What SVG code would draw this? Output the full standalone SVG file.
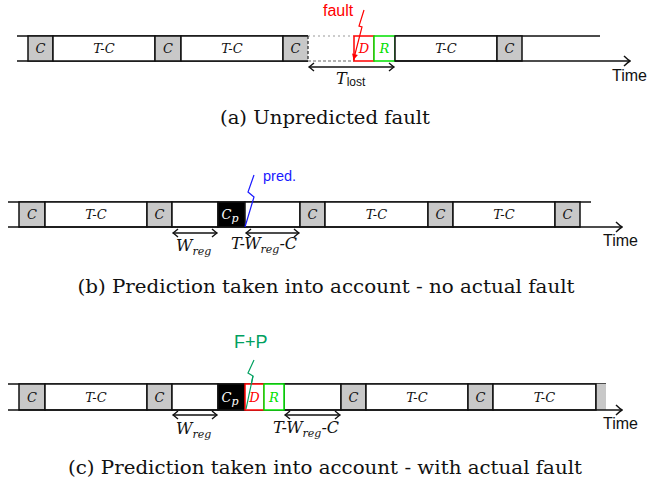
<svg xmlns="http://www.w3.org/2000/svg" width="647" height="484" viewBox="0 0 647 484">
<style>
.ln{stroke:#111;stroke-width:1.5;fill:none}
.c{fill:#c8c8c8;stroke:#111;stroke-width:1.5}
.w{fill:#fff;stroke:#111;stroke-width:1.5}
.k{fill:#000;stroke:#111;stroke-width:1.5}
.d{fill:#fff;stroke:#ff0000;stroke-width:1.5}
.r{fill:#fff;stroke:#00e000;stroke-width:1.5}
.m{font-family:'DejaVu Serif','Liberation Serif',serif;font-style:italic;font-size:13px;text-anchor:middle;fill:#111}
.s{font-family:'Liberation Sans',Arial,sans-serif}
.cap{font-family:'DejaVu Serif','Liberation Serif',serif;font-size:18px;text-anchor:middle;fill:#111}
.lab{font-family:'DejaVu Serif','Liberation Serif',serif;font-style:italic;font-size:16px;fill:#111}
.sub{font-size:11px}
.time{font-family:'Liberation Sans',Arial,sans-serif;font-size:16px;fill:#111}
</style>
<defs>
<marker id="ax" viewBox="-8 -6 9 12" refX="0" refY="0" markerWidth="9" markerHeight="12" orient="auto" markerUnits="userSpaceOnUse">
<path d="M-6,-5 Q-2,-1.2 0,0 Q-2,1.2 -6,5" fill="none" stroke="#111" stroke-width="1.5"/>
</marker>
<marker id="ah" viewBox="-6 -5 7 10" refX="0" refY="0" markerWidth="7" markerHeight="10" orient="auto-start-reverse" markerUnits="userSpaceOnUse">
<path d="M-5,-4 Q-1.5,-1 0,0 Q-1.5,1 -5,4" fill="none" stroke="#111" stroke-width="1.4"/>
</marker>
<marker id="fr" viewBox="-7 -4 8 8" refX="0" refY="0" markerWidth="8" markerHeight="8" orient="auto" markerUnits="userSpaceOnUse">
<path d="M-6,-3 L0,0 L-6,3 Z" fill="#ff0000"/>
</marker>
</defs>

<!-- Row (a) -->
<g id="row-a">
<path class="ln" d="M17,36 H308 M395,36 H600 M17,61 H308"/>
<path d="M308,36 H354" stroke="#999" stroke-width="1.2" stroke-dasharray="2,3"/>
<path d="M308,61 H354" stroke="#666" stroke-width="1.2" stroke-dasharray="3,2"/>
<g id="a-c1"><rect class="c" x="28" y="36" width="25" height="25"/><text class="m" x="40.5" y="53">C</text></g>
<g id="a-tc1"><rect class="w" x="53" y="36" width="102" height="25"/><text class="m" x="104" y="53">T-C</text></g>
<g id="a-c2"><rect class="c" x="155" y="36" width="26" height="25"/><text class="m" x="168" y="53">C</text></g>
<g id="a-tc2"><rect class="w" x="181" y="36" width="102" height="25"/><text class="m" x="232" y="53">T-C</text></g>
<g id="a-c3"><path d="M308,36 H283 V61 H308" class="c"/><path d="M308,36 V61" stroke="#333" stroke-width="1.3" stroke-dasharray="3,2"/><text class="m" x="295.5" y="53">C</text></g>
<g id="a-d"><rect class="d" x="354" y="36" width="20" height="25"/><text class="m" x="364" y="53" style="fill:#ff0000">D</text></g>
<g id="a-r"><rect class="r" x="374" y="36" width="21" height="25"/><text class="m" x="384.5" y="53" style="fill:#00e000">R</text></g>
<g id="a-tc3"><rect class="w" x="395" y="36" width="102" height="25"/><text class="m" x="446" y="53">T-C</text></g>
<g id="a-c4"><rect class="c" x="497" y="36" width="25" height="25"/><text class="m" x="509.5" y="53">C</text></g>
<text id="a-fault" class="s" x="323" y="16" font-size="16" fill="#ff0000">fault</text>
<text id="a-time" class="time" x="612" y="81">Time</text>
<text id="a-tlost" class="lab" x="336" y="84" font-size="17">T<tspan class="s" font-style="normal" font-size="12" dy="2">lost</tspan></text>
<text id="cap-a" class="cap" x="325" y="124" textLength="210" lengthAdjust="spacingAndGlyphs">(a) Unpredicted fault</text>
</g>

<!-- Row (b) -->
<g id="row-b">
<path class="ln" d="M8,202 H591"/>
<g id="b-c1"><rect class="c" x="19" y="202" width="26" height="25"/><text class="m" x="32" y="219">C</text></g>
<g id="b-tc1"><rect class="w" x="45" y="202" width="102" height="25"/><text class="m" x="96" y="219">T-C</text></g>
<g id="b-c2"><rect class="c" x="147" y="202" width="25" height="25"/><text class="m" x="159.5" y="219">C</text></g>
<g id="b-w1"><rect class="w" x="172" y="202" width="46" height="25"/></g>
<g id="b-cp"><rect class="k" x="218" y="202" width="27" height="25"/><text class="m" x="230" y="219" style="fill:#fff">C<tspan class="sub" font-size="9" dy="3">p</tspan></text></g>
<g id="b-w2"><rect class="w" x="245" y="202" width="55" height="25"/></g>
<g id="b-c3"><rect class="c" x="300" y="202" width="25" height="25"/><text class="m" x="312.5" y="219">C</text></g>
<g id="b-tc2"><rect class="w" x="325" y="202" width="103" height="25"/><text class="m" x="376.5" y="219">T-C</text></g>
<g id="b-c4"><rect class="c" x="428" y="202" width="25" height="25"/><text class="m" x="440.5" y="219">C</text></g>
<g id="b-tc3"><rect class="w" x="453" y="202" width="102" height="25"/><text class="m" x="504" y="219">T-C</text></g>
<g id="b-c5"><rect class="c" x="555" y="202" width="25" height="25"/><text class="m" x="567.5" y="219">C</text></g>
<text id="b-pred" class="s" x="263" y="181" font-size="14.5" fill="#1a1aff">pred.</text>
<text id="b-time" class="time" x="603" y="246">Time</text>
<text id="b-wreg" class="lab" x="176" y="251">W<tspan class="sub" dy="4">reg</tspan></text>
<text id="b-twc" class="lab" x="231" y="249">T-W<tspan class="sub" dy="4">reg</tspan><tspan dy="-4">-C</tspan></text>
<text id="cap-b" class="cap" x="326" y="293" textLength="497" lengthAdjust="spacingAndGlyphs">(b) Prediction taken into account - no actual fault</text>
</g>

<!-- Row (c) -->
<g id="row-c">
<path class="ln" d="M8,384 H606"/>
<g id="c-c1"><rect class="c" x="19" y="384" width="26" height="26"/><text class="m" x="32" y="401.5">C</text></g>
<g id="c-tc1"><rect class="w" x="45" y="384" width="102" height="26"/><text class="m" x="96" y="401.5">T-C</text></g>
<g id="c-c2"><rect class="c" x="147" y="384" width="25" height="26"/><text class="m" x="159.5" y="401.5">C</text></g>
<g id="c-w1"><rect class="w" x="172" y="384" width="46" height="26"/></g>
<g id="c-cp"><rect class="k" x="218" y="384" width="27" height="26"/><text class="m" x="230" y="401.5" style="fill:#fff">C<tspan class="sub" font-size="9" dy="3">p</tspan></text></g>
<g id="c-w2"><rect class="w" x="284" y="384" width="57" height="26"/></g>
<g id="c-c3"><rect class="c" x="341" y="384" width="25" height="26"/><text class="m" x="353.5" y="401.5">C</text></g>
<g id="c-tc2"><rect class="w" x="366" y="384" width="102" height="26"/><text class="m" x="417" y="401.5">T-C</text></g>
<g id="c-c4"><rect class="c" x="468" y="384" width="25" height="26"/><text class="m" x="480.5" y="401.5">C</text></g>
<g id="c-tc3"><rect class="w" x="493" y="384" width="103" height="26"/><text class="m" x="544.5" y="401.5">T-C</text></g>
<g id="c-c5"><rect x="596" y="384" width="10" height="26" fill="#c8c8c8"/><path class="ln" d="M596,384 V410"/></g>
<text id="c-fp" class="s" x="234" y="348" font-size="18" fill="#00a060">F+P</text>
<text id="c-time" class="time" x="603" y="429">Time</text>
<text id="c-wreg" class="lab" x="176" y="434">W<tspan class="sub" dy="4">reg</tspan></text>
<text id="c-twc" class="lab" x="273" y="433">T-W<tspan class="sub" dy="4">reg</tspan><tspan dy="-4">-C</tspan></text>
<text id="cap-c" class="cap" x="325" y="474" textLength="514" lengthAdjust="spacingAndGlyphs">(c) Prediction taken into account - with actual fault</text>
</g>

<!-- Connectors -->
<g id="connectors">
<path class="ln" d="M395,61 H630" marker-end="url(#ax)"/>
<path class="ln" d="M8,227 H622" marker-end="url(#ax)"/>
<path class="ln" d="M8,410 H622" marker-end="url(#ax)"/>
<path d="M309,67 H394" stroke="#111" stroke-width="1.4" fill="none" marker-start="url(#ah)" marker-end="url(#ah)"/>
<path d="M173,233 H217" stroke="#111" stroke-width="1.4" fill="none" marker-start="url(#ah)" marker-end="url(#ah)"/>
<path d="M246,233 H299" stroke="#111" stroke-width="1.4" fill="none" marker-start="url(#ah)" marker-end="url(#ah)"/>
<path d="M173,415 H217" stroke="#111" stroke-width="1.4" fill="none" marker-start="url(#ah)" marker-end="url(#ah)"/>
<path d="M285,415 H340" stroke="#111" stroke-width="1.4" fill="none" marker-start="url(#ah)" marker-end="url(#ah)"/>
<polyline points="364,10 359,26 362,27 353.5,60" fill="none" stroke="#ff0000" stroke-width="1.2" marker-end="url(#fr)"/>
<polyline points="254,175 248,192 254,197 245,227" fill="none" stroke="#1a1aff" stroke-width="1.2"/>
<polyline points="254,360 248,373 253,376 246,409" fill="none" stroke="#00a060" stroke-width="1.2"/>
</g>
<g id="c-dr">
<g id="c-d"><rect class="d" x="245" y="384" width="19" height="26"/><text class="m" x="254.5" y="401.5" style="fill:#ff0000">D</text></g>
<g id="c-r"><rect class="r" x="264" y="384" width="20" height="26"/><text class="m" x="274" y="401.5" style="fill:#00e000">R</text></g>
</g>
<polyline points="253,376 246,409" fill="none" stroke="#00a060" stroke-width="1.2"/>
</svg>
